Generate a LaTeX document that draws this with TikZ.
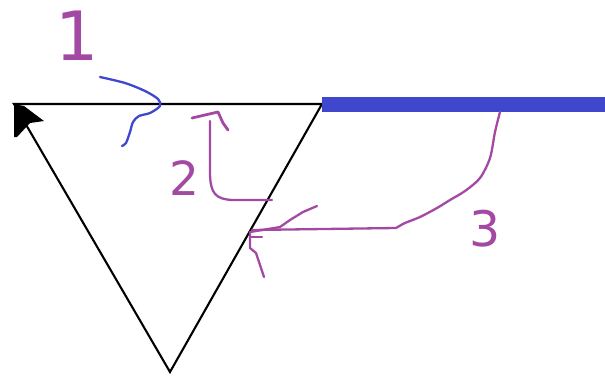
\documentclass[tikz,border=0pt]{standalone}
\usepackage{fontspec}
\newfontfamily\labfont{DejaVu Sans}
\definecolor{pblue}{RGB}{63,72,204}
\definecolor{ppurple}{RGB}{163,73,164}
\tikzset{
  blk/.style={line width=2.1pt, black, line join=miter},
  bluepen/.style={line width=2.3pt, pblue, line cap=round, line join=round},
  purplepen/.style={line width=2.3pt, ppurple, line cap=round, line join=round},
  lab/.style={text=ppurple, inner sep=0pt, font=\labfont},
}
\begin{document}
\begin{tikzpicture}[x=1pt,y=-1pt]
\useasboundingbox (0,0) rectangle (605,375);
% triangle corners
\coordinate (L) at (14,104);
\coordinate (R) at (322,104);
\coordinate (B) at (170,372);
\draw[blk] (L) -- (R) -- (B) -- cycle;
% black arrowhead at left corner
\fill[black] (L) -- (24,106) -- (44,121) -- (30,123) -- (17,137) -- (14,137) -- cycle;
% blue bar
\fill[pblue] (322,97) rectangle (605,112);
% labels
\node[lab, font=\labfont\fontsize{68}{68}\selectfont] (n1) at (77,36) {1};
\node[lab, font=\labfont\fontsize{47}{47}\selectfont] (n2) at (184,178) {2};
\node[lab, font=\labfont\fontsize{49}{49}\selectfont] (n3) at (485,229) {3};
% blue pointer for 1
\draw[bluepen] plot[smooth] coordinates {(100,77) (125,83) (145,91) (158,99) (160,106) (150,113) (139,116) (133,122) (130,132) (126,143) (122,146)};
% purple arrow 2
\draw[purplepen] (272,200) -- (232,200) .. controls (216,199) and (210,194) .. (210,172) -- (210,121);
\draw[purplepen, line width=2.8pt] (192,118) -- (218,112) -- (223,123) -- (228,130);
% purple arrow 3
\draw[purplepen] plot[smooth] coordinates {(500,112) (495,132) (490,158) (480,178) (465,191) (450,200) (437,208) (420,217) (405,223) (396,228)} -- (252,230);
\draw[purplepen] (317,206) -- (303,212) -- (290,220) -- (280,227) -- (250,232) -- (250,248) -- (256,253) -- (264,277);
\draw[purplepen] (250,237) -- (262,237);
\end{tikzpicture}
\end{document}
